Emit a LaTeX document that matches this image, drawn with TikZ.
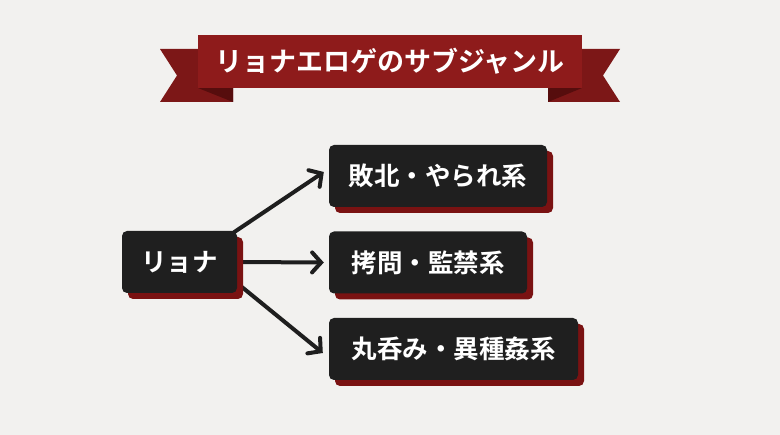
\documentclass[tikz,border=0pt]{standalone}
\usepackage{fontspec}
\newfontfamily\jp{Noto Sans CJK JP}[BoldFont={Noto Sans CJK JP Bold}]
\usetikzlibrary{arrows.meta,calc,shadows}
\definecolor{bg}{HTML}{F2F1EF}
\definecolor{ribbon}{HTML}{8E1B1B}
\definecolor{tail}{HTML}{7C1717}
\definecolor{fold}{HTML}{560D0D}
\definecolor{boxfill}{HTML}{1F1F1F}
\definecolor{shadowred}{HTML}{7A1212}
\definecolor{arrowcol}{HTML}{1E1E1E}
\pgfdeclarelayer{bglayer}
\pgfdeclarelayer{back}
\pgfsetlayers{bglayer,back,main}
\tikzset{
  genre/.style={rectangle, rounded corners=5pt, fill=boxfill, text=white,
    font=\jp\bfseries\fontsize{25.5}{28}\selectfont, inner sep=0pt,
    minimum height=62pt,
    drop shadow={shadow xshift=6pt, shadow yshift=-6pt, fill=shadowred, opacity=1}},
  arr/.style={draw=arrowcol, line width=4pt, line cap=round,
    -{Straight Barb[length=9pt,width=20pt,line width=4pt,line cap=round]}},
}
\begin{document}
\begin{tikzpicture}[x=1pt,y=-1pt]
\begin{pgfonlayer}{bglayer}
\fill[bg] (0,0) rectangle (780,435);
\end{pgfonlayer}
\useasboundingbox (0,0) rectangle (780,435);
% ribbon tails
\fill[tail] (160,49) -- (233,49) -- (233,102) -- (160,102) -- (177,75.5) -- cycle;
\fill[tail] (620,49) -- (548,49) -- (548,102) -- (620,102) -- (603,75.5) -- cycle;
\fill[fold] (198,88) -- (233,88) -- (233,102) -- cycle;
\fill[fold] (582,88) -- (548,88) -- (548,102) -- cycle;
% ribbon main
\node[fill=ribbon, minimum width=384pt, minimum height=53pt, inner sep=0pt,
  text=white, font=\jp\bfseries\fontsize{27}{30}\selectfont] (title) at (390,61.5)
  {リョナエロゲのサブジャンル};
% nodes
\node[genre, minimum width=115pt] (L) at (179.5,262) {リョナ};
\node[genre, minimum width=218pt] (B1) at (438,176) {敗北・やられ系};
\node[genre, minimum width=198pt] (B2) at (428,262.5) {拷問・監禁系};
\node[genre, minimum width=249pt] (B3) at (453.5,349) {丸呑み・異種姦系};
\begin{pgfonlayer}{back}
\draw[arr] ($(L.north east)+(-7,4)$) -- ($(B1.west)+(-5,-4)$);
\draw[arr] (L.east) -- ($(B2.west)+(-5,0)$);
\draw[arr] ($(L.south east)+(0,-10)$) -- ($(B3.west)+(-6,4)$);
\end{pgfonlayer}
\end{tikzpicture}
\end{document}
